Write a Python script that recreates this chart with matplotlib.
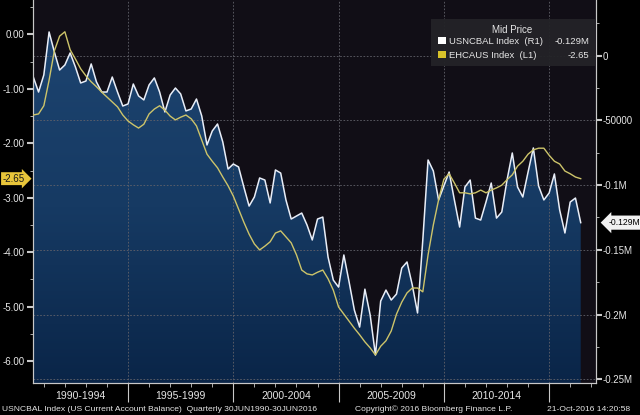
#!/usr/bin/env python3
"""
US current account balance vs. current account % GDP (Bloomberg style chart)
"""

import numpy as np
import matplotlib
matplotlib.use("Agg")
import matplotlib.pyplot as plt
from matplotlib.colors import LinearSegmentedColormap
from matplotlib.patches import Rectangle
from matplotlib.ticker import FixedLocator, MultipleLocator

plt.rcParams['font.family'] = ['Liberation Sans', 'DejaVu Sans']
plt.rcParams['axes.unicode_minus'] = False

# Quarterly data, 30JUN1990 - 30JUN2016
START_YEAR = 1990.5

# USNCBAL Index (R1), US current account balance, $bn
usncbal = [-16.5, -28.1, -14.9, 18.3, 2.9, -11.1, -7.2, 2.1, -8.7, -21.1,
           -19.6, -6.4, -20.3, -28.1, -28.1, -16.5, -28.1, -38.9, -37.3, -21.9,
           -31.1, -34.2, -22.6, -17.2, -28.1, -43.5, -30.4, -25.0, -29.6, -42.7,
           -41.2, -33.5, -46.6, -69.0, -58.2, -52.8, -66.7, -87.6, -83.7, -86.0,
           -101.5, -116.2, -109.2, -94.5, -96.1, -113.8, -88.3, -90.7, -111.5, -126.2,
           -123.9, -121.6, -130.8, -142.4, -126.2, -124.7, -155.6, -173.4, -178.8, -154.0,
           -174.9, -196.6, -209.7, -180.4, -200.4, -231.3, -189.6, -181.1, -188.8, -184.2,
           -164.1, -159.4, -177.2, -198.8, -142.4, -80.6, -89.1, -111.5, -100.7, -89.9,
           -111.5, -132.4, -101.5, -96.1, -125.5, -127.0, -113.1, -98.4, -125.5, -120.8,
           -96.1, -75.2, -101.5, -109.2, -89.9, -71.3, -100.7, -111.5, -106.1, -91.4,
           -119.2, -137.0, -113.1, -110.0, -129.0]

# EHCAUS Index (L1), current account % of GDP
ehcaus = [-1.48, -1.46, -1.31, -0.84, -0.30, -0.03, 0.05, -0.28, -0.45, -0.63,
          -0.76, -0.87, -0.96, -1.06, -1.15, -1.24, -1.33, -1.48, -1.59, -1.66,
          -1.72, -1.65, -1.46, -1.37, -1.31, -1.39, -1.50, -1.57, -1.52, -1.48,
          -1.55, -1.68, -1.94, -2.20, -2.33, -2.45, -2.62, -2.78, -2.97, -3.21,
          -3.45, -3.67, -3.85, -3.96, -3.89, -3.81, -3.65, -3.61, -3.72, -3.83,
          -4.05, -4.33, -4.40, -4.42, -4.37, -4.33, -4.49, -4.70, -5.01, -5.14,
          -5.27, -5.40, -5.52, -5.65, -5.76, -5.89, -5.73, -5.63, -5.45, -5.14,
          -4.92, -4.75, -4.66, -4.66, -4.73, -4.05, -3.50, -3.04, -2.66, -2.56,
          -2.73, -2.91, -2.91, -2.93, -2.91, -2.86, -2.91, -2.86, -2.82, -2.77,
          -2.67, -2.58, -2.42, -2.33, -2.20, -2.12, -2.09, -2.09, -2.22, -2.33,
          -2.38, -2.51, -2.56, -2.62, -2.65]

SERIES_NAMES = ["USNCBAL Index  (R1)", "EHCAUS Index  (L1)"]
PERIOD_STARTS = [1990, 1995, 2000, 2005, 2010]
PERIOD_LABELS = ["1990-1994", "1995-1999", "2000-2004", "2005-2009", "2010-2014"]
LEFT_TICKS = [0, -1, -2, -3, -4, -5, -6]
RIGHT_TICKS = [0, -50, -100, -150, -200, -250]
RIGHT_LABELS = ["0", "-50000", "-0.1M", "-0.15M", "-0.2M", "-0.25M"]

FOOT_LEFT = "USNCBAL Index (US Current Account Balance)  Quarterly 30JUN1990-30JUN2016"
FOOT_MID = "Copyright\u00a9 2016 Bloomberg Finance L.P."
FOOT_RIGHT = "21-Oct-2016 14:20:58"

# Styling
BG = '#110e16'
AXIS_COL = '#c8c8c8'
TEXT_COL = '#e6e6e6'
WHITE_LINE = '#e9eef8'
YELLOW_LINE = '#cdc46a'
XLIM = (1990.486, 2017.226)
YLIM_LEFT = (-6.406, 0.634)
YLIM_RIGHT = (-252.9, 43.0)


def create_plot():
    fig = plt.figure(figsize=(6.4, 4.15), dpi=100, facecolor='black')
    ax2 = fig.add_axes([33 / 640, 32 / 415, 563 / 640, 383 / 415])
    ax1 = ax2.twinx()
    # left axis on ax1, right axis on ax2
    ax1.yaxis.tick_left()
    ax2.yaxis.tick_right()
    ax1.set_zorder(ax2.get_zorder() + 1)
    ax1.patch.set_visible(False)
    ax2.patch.set_visible(True)
    ax2.set_facecolor(BG)

    t = START_YEAR + 0.25 * np.arange(len(usncbal))
    usn = np.array(usncbal)
    eh = np.array(ehcaus)

    # gradient fill under the balance line
    poly = ax2.fill_between(t, usn, YLIM_RIGHT[0], facecolor='none', edgecolor='none')
    cmap = LinearSegmentedColormap.from_list('bbg', ['#0a2548', '#163a63', '#1d4470'])
    grad = np.linspace(0, 1, 256).reshape(-1, 1)
    im = ax2.imshow(grad, cmap=cmap, aspect='auto', origin='lower', zorder=1,
                    extent=[t[0], t[-1], YLIM_RIGHT[0], usn.max()])
    im.set_clip_path(poly.get_paths()[0], transform=ax2.transData)

    ax2.plot(t, usn, color=WHITE_LINE, lw=1.1, zorder=3)
    ax1.plot(t, eh, color=YELLOW_LINE, lw=1.0, zorder=3)

    ax2.set_xlim(*XLIM)
    ax2.set_ylim(*YLIM_RIGHT)
    ax1.set_ylim(*YLIM_LEFT)

    # grid follows the right axis
    for v in RIGHT_TICKS:
        ax2.axhline(v, color='#62626a', lw=0.6, ls=(0, (2, 2)), zorder=2)
    for yr in PERIOD_STARTS[1:] + [2015]:
        ax2.axvline(yr, color='#62626a', lw=0.6, ls=(0, (2, 2)), zorder=2)

    # right axis
    ax2.yaxis.set_major_locator(FixedLocator(RIGHT_TICKS))
    ax2.set_yticklabels(RIGHT_LABELS)
    ax2.yaxis.set_minor_locator(MultipleLocator(25))
    ax2.tick_params(axis='y', which='major', direction='out', length=4, width=1.5,
                    color=AXIS_COL, labelcolor=TEXT_COL, labelsize=7, pad=1)
    ax2.tick_params(axis='y', which='minor', direction='out', length=2, color=AXIS_COL)

    # left axis
    ax1.yaxis.set_major_locator(FixedLocator(LEFT_TICKS))
    ax1.set_yticklabels([f"{v:.2f}" for v in LEFT_TICKS])
    ax1.yaxis.set_minor_locator(MultipleLocator(0.5))
    ax1.tick_params(axis='y', which='major', direction='out', length=4, width=1.5,
                    color=AXIS_COL, labelcolor=TEXT_COL, labelsize=7, pad=2)
    ax1.tick_params(axis='y', which='minor', direction='out', length=2, color=AXIS_COL)

    # x axis: year ticks, long separators every 5 years, period labels centered
    ax2.xaxis.set_major_locator(FixedLocator(PERIOD_STARTS[1:] + [2015]))
    ax2.xaxis.set_minor_locator(MultipleLocator(1))
    ax2.set_xticklabels([])
    ax2.tick_params(axis='x', which='major', direction='out', length=14, width=0.8,
                    color=AXIS_COL)
    ax2.tick_params(axis='x', which='minor', direction='out', length=3, color=AXIS_COL)
    ax1.tick_params(axis='x', which='both', length=0)
    for start, label in zip(PERIOD_STARTS, PERIOD_LABELS):
        lo, hi = max(start, XLIM[0]), min(start + 5, XLIM[1])
        ax2.text((lo + hi) / 2, -0.034, label, transform=ax2.get_xaxis_transform(),
                 ha='center', va='center', fontsize=7.5, color=TEXT_COL)

    for ax in (ax1, ax2):
        ax.spines['top'].set_visible(False)
        for s in ('left', 'right', 'bottom'):
            ax.spines[s].set_color(AXIS_COL)
            ax.spines[s].set_linewidth(0.8)

    # last value tags
    ax2.annotate(f"{usn[-1] / 1000:.3f}M", xy=(1.0, usn[-1]),
                 xycoords=ax2.get_yaxis_transform(), xytext=(9, 0),
                 textcoords='offset points', ha='left', va='center', fontsize=6.2,
                 color='black',
                 bbox=dict(boxstyle='larrow,pad=0.3', fc='#f2f2f2', ec='none'))
    ax1.annotate(f"{eh[-1]:.2f}", xy=(0.0, eh[-1]),
                 xycoords=ax1.get_yaxis_transform(), xytext=(-6, 0),
                 textcoords='offset points', ha='right', va='center', fontsize=7,
                 color='#1a1a1a',
                 bbox=dict(boxstyle='rarrow,pad=0.15', fc='#e8c53a', ec='none'))

    # legend box
    fig.patches.append(Rectangle((431 / 640, 1 - 66 / 415), 164 / 640, 47 / 415,
                                 transform=fig.transFigure, facecolor='#232327',
                                 edgecolor='none', alpha=0.95, zorder=5))
    fig.text(512 / 640, 1 - 30 / 415, "Mid Price", ha='center', va='center',
             fontsize=7, color=TEXT_COL, zorder=6)
    values = [f"{usn[-1] / 1000:.3f}M", f"{eh[-1]:.2f}"]
    for k, (name, val, col) in enumerate(zip(SERIES_NAMES, values, ['#ffffff', '#d8c22a'])):
        yc = 1 - (41 + 14 * k) / 415
        fig.patches.append(Rectangle((438 / 640, yc - 3.5 / 415), 7.5 / 640, 7 / 415,
                                     transform=fig.transFigure, facecolor=col,
                                     edgecolor='none', zorder=6))
        fig.text(449 / 640, yc, name, ha='left', va='center', fontsize=6.8,
                 color=TEXT_COL, zorder=6)
        fig.text(589 / 640, yc, val, ha='right', va='center', fontsize=6.8,
                 color=TEXT_COL, zorder=6)

    # footer
    fy = 1 - 409 / 415
    fig.text(2 / 640, fy, FOOT_LEFT, ha='left', va='center', fontsize=6.1, color=TEXT_COL)
    fig.text(434 / 640, fy, FOOT_MID, ha='center', va='center', fontsize=6.1, color=TEXT_COL)
    fig.text(630 / 640, fy, FOOT_RIGHT, ha='right', va='center', fontsize=6.1, color=TEXT_COL)

    fig.savefig("out.png", dpi=100, facecolor='black')
    plt.close(fig)


def main():
    create_plot()


if __name__ == "__main__":
    main()
